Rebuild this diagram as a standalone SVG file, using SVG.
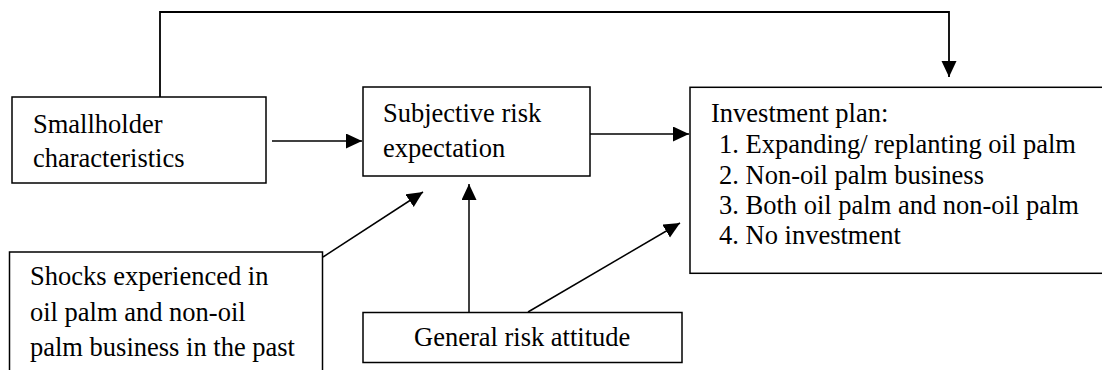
<svg xmlns="http://www.w3.org/2000/svg" width="1102" height="370" viewBox="0 0 1102 370">
  <style>
    .box { fill: #fff; stroke: #000; stroke-width: 1.5; }
    .lbl { font-family: "Liberation Serif", "Times New Roman", serif; font-size: 26.5px; fill: #000; }
    .edge { fill: none; stroke: #000; stroke-width: 1.5; }
  </style>
  <defs>
    <marker id="arr" markerUnits="userSpaceOnUse" markerWidth="18" markerHeight="16" refX="16" refY="7.5" orient="auto">
      <path d="M0,0 L16,7.5 L0,15 z" fill="#000"/>
    </marker>
  </defs>
  <rect width="1102" height="370" fill="#fff"/>

  <g id="connectors">
    <polyline class="edge" points="160,97 160,12 949,12 949,77" marker-end="url(#arr)" style="stroke-width:1.8"/>
    <line class="edge" x1="272" y1="141" x2="362" y2="141" marker-end="url(#arr)"/>
    <line class="edge" x1="590" y1="134" x2="689" y2="134" marker-end="url(#arr)"/>
    <line class="edge" x1="323" y1="257" x2="423" y2="192" marker-end="url(#arr)"/>
    <line class="edge" x1="469" y1="312" x2="469" y2="184" marker-end="url(#arr)"/>
    <line class="edge" x1="528" y1="312" x2="680" y2="223" marker-end="url(#arr)"/>
  </g>

  <g id="smallholder">
    <rect class="box" x="12" y="97" width="254" height="86"/>
    <text class="lbl" x="33" y="132.7">Smallholder</text>
    <text class="lbl" x="33" y="167">characteristics</text>
  </g>

  <g id="subjective">
    <rect class="box" x="363" y="87" width="227" height="89"/>
    <text class="lbl" x="383" y="121.7">Subjective risk</text>
    <text class="lbl" x="383" y="157.3">expectation</text>
  </g>

  <g id="investment">
    <rect class="box" x="690" y="87.3" width="430" height="186"/>
    <text class="lbl" x="711" y="121.7">Investment plan:</text>
    <text class="lbl" x="719" y="153.3">1. Expanding/ replanting oil palm</text>
    <text class="lbl" x="719" y="183.5">2. Non-oil palm business</text>
    <text class="lbl" x="719" y="214">3. Both oil palm and non-oil palm</text>
    <text class="lbl" x="719" y="244">4. No investment</text>
  </g>

  <g id="shocks">
    <rect class="box" x="9.5" y="252" width="313" height="140"/>
    <text class="lbl" x="30" y="285">Shocks experienced in</text>
    <text class="lbl" x="30" y="320.7">oil palm and non-oil</text>
    <text class="lbl" x="30" y="356">palm business in the past</text>
  </g>

  <g id="attitude">
    <rect class="box" x="363" y="312.5" width="319" height="50"/>
    <text class="lbl" x="414" y="345.7">General risk attitude</text>
  </g>
</svg>
